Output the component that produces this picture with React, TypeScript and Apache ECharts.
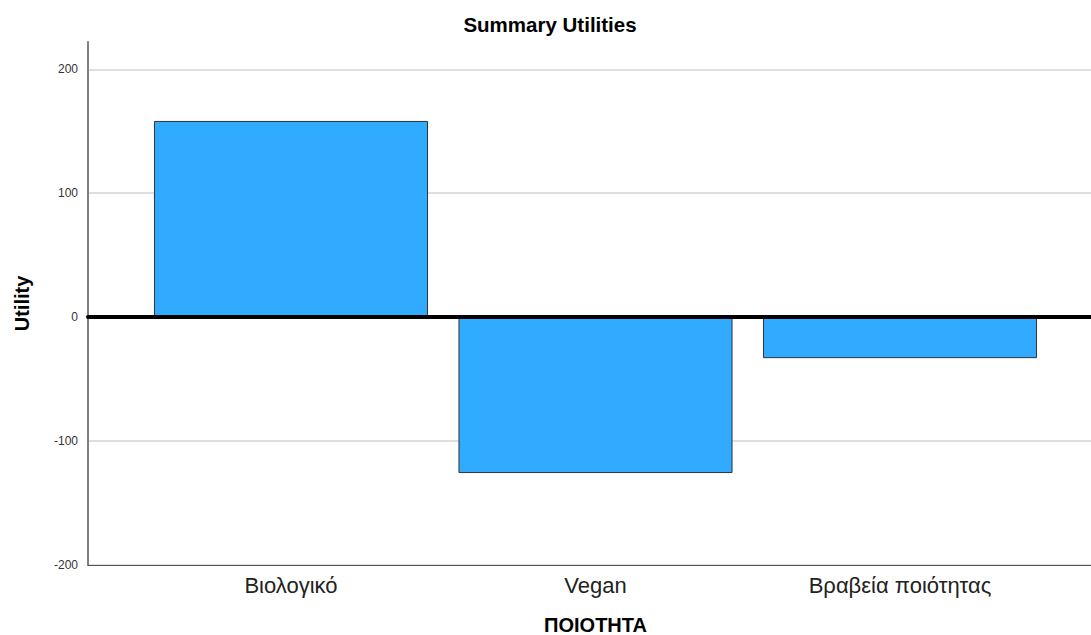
import React, { useEffect, useRef } from "react";
import * as echarts from "echarts";

const categories = ["Βιολογικό", "Vegan", "Βραβεία ποιότητας"];
const utilities = [158.3, -125.8, -33.1];
const yMin = -200;
const yMax = 222;
const yInterval = 100;
const titleText = "Summary Utilities";
const xName = "ΠΟΙΟΤΗΤΑ";
const yName = "Utility";

const FONT = "Arial, 'Liberation Sans', sans-serif";

export default function App() {
  const ref = useRef<HTMLDivElement>(null);
  useEffect(() => {
    if (!ref.current) return;
    const chart = echarts.init(ref.current, null, { renderer: "svg" });
    const labelFmt = (v: number) => (v % yInterval === 0 ? String(v) : "");
    chart.setOption({
      animation: false,
      backgroundColor: "#ffffff",
      textStyle: { fontFamily: FONT },
      title: {
        text: titleText,
        left: 545,
        textAlign: "center",
        top: 9,
        textStyle: { fontSize: 20.5, fontWeight: "bold", color: "#000", fontFamily: FONT },
      },
      grid: [
        { left: 88, right: 0, top: 42, height: 523, outerBoundsMode: "none", containLabel: false },
        { left: 138.75, right: 38.75, top: 42, height: 523, outerBoundsMode: "none", containLabel: false },
      ],
      xAxis: [
        {
          type: "category",
          gridIndex: 0,
          data: categories,
          z: 10,
          axisLine: { show: true, onZero: true, lineStyle: { color: "#000", width: 4 } },
          axisTick: { show: false },
          axisLabel: { show: false },
          splitLine: { show: false },
        },
        {
          type: "category",
          gridIndex: 0,
          data: categories,
          position: "bottom",
          axisLine: { show: true, onZero: false, lineStyle: { color: "#555", width: 1 } },
          axisTick: { show: false },
          axisLabel: { show: false },
          splitLine: { show: false },
        },
        {
          type: "category",
          gridIndex: 1,
          data: categories,
          position: "bottom",
          axisLine: { show: false, onZero: false },
          axisTick: { show: false },
          axisLabel: { show: true, fontSize: 22, color: "#222", margin: 9, fontFamily: FONT },
          name: xName,
          nameLocation: "middle",
          nameGap: 51,
          nameTextStyle: { fontSize: 20, lineHeight: 18, fontWeight: "bold", color: "#000", fontFamily: FONT },
        },
      ],
      yAxis: [
        {
          type: "value",
          gridIndex: 0,
          min: yMin,
          max: yMax,
          interval: yInterval,
          axisLine: { show: true, lineStyle: { color: "#808080", width: 2 } },
          axisTick: { show: false },
          axisLabel: { fontSize: 12, color: "#333", margin: 10, formatter: labelFmt, showMaxLabel: false },
          splitLine: { show: true, showMaxLine: false, lineStyle: { color: "#d4d4d4", width: 1.5 } },
          name: yName,
          nameLocation: "middle",
          nameRotate: 90,
          nameGap: 56,
          nameTextStyle: { fontSize: 20, fontWeight: "bold", color: "#000", fontFamily: FONT },
        },
        {
          type: "value",
          gridIndex: 1,
          min: yMin,
          max: yMax,
          interval: yInterval,
          show: false,
          splitLine: { show: false },
        },
      ],
      series: [
        {
          type: "bar",
          xAxisIndex: 2,
          yAxisIndex: 1,
          data: utilities,
          barWidth: "90%",
          itemStyle: { color: "#30abff", borderColor: "#333", borderWidth: 1 },
        },
      ],
    });
    return () => chart.dispose();
  }, []);
  return (
    <div
      ref={ref}
      style={{ position: "absolute", left: 0, top: 0, width: 1091, height: 635 }}
    />
  );
}
